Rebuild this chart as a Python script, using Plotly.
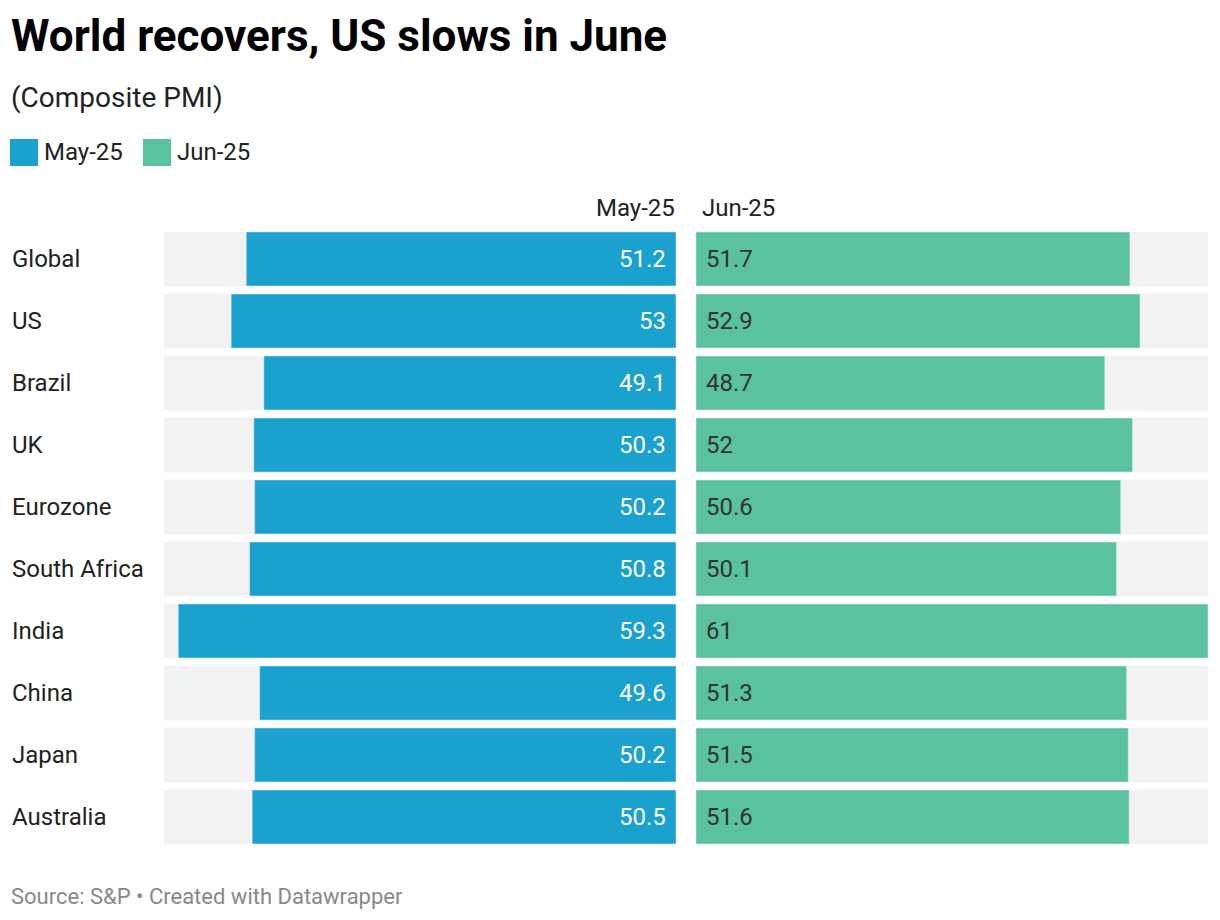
import plotly.graph_objects as go

countries = ["Global", "US", "Brazil", "UK", "Eurozone", "South Africa",
             "India", "China", "Japan", "Australia"]
may_values = [51.2, 53, 49.1, 50.3, 50.2, 50.8, 59.3, 49.6, 50.2, 50.5]
jun_values = [51.7, 52.9, 48.7, 52, 50.6, 50.1, 61, 51.3, 51.5, 51.6]
series_names = ["May-25", "Jun-25"]
scale_max = 61

W, H = 1220, 920
BLUE = "#1aa1cd"
GREEN = "#5ac29f"
GRAY = "#f2f2f2"
FONT = "Roboto"


def px_x(p):
    return p / W


def px_y(p):
    return 1 - p / H


fig = go.Figure()
bar_w = 54 / 62
bg = [scale_max] * len(countries)

fig.add_trace(go.Bar(y=countries, x=bg, orientation="h", marker_color=GRAY,
                     width=bar_w, xaxis="x", yaxis="y", hoverinfo="skip",
                     showlegend=False))
fig.add_trace(go.Bar(y=countries, x=may_values, orientation="h", marker_color=BLUE,
                     width=bar_w, xaxis="x", yaxis="y", name=series_names[0],
                     showlegend=False))
fig.add_trace(go.Bar(y=countries, x=bg, orientation="h", marker_color=GRAY,
                     width=bar_w, xaxis="x2", yaxis="y2", hoverinfo="skip",
                     showlegend=False))
fig.add_trace(go.Bar(y=countries, x=jun_values, orientation="h", marker_color=GREEN,
                     width=bar_w, xaxis="x2", yaxis="y2", name=series_names[1],
                     showlegend=False))

annotations = []
for c, mv, jv in zip(countries, may_values, jun_values):
    annotations.append(dict(x=0, y=c, xref="x", yref="y", text=f"{mv:g}",
                            xanchor="right", yanchor="middle", xshift=-8,
                            showarrow=False,
                            font=dict(family=FONT, size=24, color="#ffffff")))
    annotations.append(dict(x=0, y=c, xref="x2", yref="y2", text=f"{jv:g}",
                            xanchor="left", yanchor="middle", xshift=8,
                            showarrow=False,
                            font=dict(family=FONT, size=24, color="#333333")))
    annotations.append(dict(x=px_x(10), y=c, xref="paper", yref="y", text=c,
                            xanchor="left", yanchor="middle", showarrow=False,
                            font=dict(family=FONT, size=24, color="#222222")))

# column headers
annotations.append(dict(x=0, y=px_y(208), xref="x", yref="paper", text=series_names[0],
                        xanchor="right", yanchor="middle", xshift=1, showarrow=False,
                        font=dict(family=FONT, size=24, color="#222222")))
annotations.append(dict(x=0, y=px_y(208), xref="x2", yref="paper", text=series_names[1],
                        xanchor="left", yanchor="middle", xshift=4, showarrow=False,
                        font=dict(family=FONT, size=24, color="#222222")))

# title, subtitle, source
annotations.append(dict(x=px_x(9), y=px_y(36), xref="paper", yref="paper",
                        text="<b>World recovers, US slows in June</b>",
                        xanchor="left", yanchor="middle", showarrow=False,
                        font=dict(family=FONT, size=44, color="#000000")))
annotations.append(dict(x=px_x(9), y=px_y(97), xref="paper", yref="paper",
                        text="(Composite PMI)", xanchor="left", yanchor="middle",
                        showarrow=False,
                        font=dict(family=FONT, size=28, color="#222222")))
annotations.append(dict(x=px_x(9), y=px_y(896), xref="paper", yref="paper",
                        text="Source: S&P • Created with Datawrapper",
                        xanchor="left", yanchor="middle", showarrow=False,
                        font=dict(family=FONT, size=22, color="#888888")))

# legend
shapes = []
legend_items = [(series_names[0], BLUE, 10), (series_names[1], GREEN, 143)]
for name, col, x0 in legend_items:
    shapes.append(dict(type="rect", xref="paper", yref="paper",
                       x0=px_x(x0), x1=px_x(x0 + 28), y0=px_y(166), y1=px_y(139),
                       fillcolor=col, line=dict(width=0)))
    annotations.append(dict(x=px_x(x0 + 32), y=px_y(152), xref="paper", yref="paper",
                            text=name, xanchor="left", yanchor="middle",
                            showarrow=False,
                            font=dict(family=FONT, size=24, color="#222222")))

ydom = [px_y(848), px_y(228)]
common_y = dict(type="category", autorange=False, range=[len(countries) - 0.5, -0.5],
                showticklabels=False, showgrid=False, zeroline=False,
                domain=ydom, fixedrange=True)

fig.update_layout(
    width=W, height=H,
    margin=dict(l=0, r=0, t=0, b=0),
    paper_bgcolor="#ffffff", plot_bgcolor="rgba(0,0,0,0)",
    barmode="overlay", showlegend=False,
    font=dict(family=FONT),
    xaxis=dict(domain=[px_x(164), px_x(676)], range=[scale_max, 0],
               showticklabels=False, showgrid=False, zeroline=False, fixedrange=True),
    xaxis2=dict(domain=[px_x(696), px_x(1208)], range=[0, scale_max],
                showticklabels=False, showgrid=False, zeroline=False, fixedrange=True),
    yaxis=dict(**common_y, anchor="x"),
    yaxis2=dict(**common_y, anchor="x2"),
    annotations=annotations,
    shapes=shapes,
)

fig.write_html("out.html", config={"displayModeBar": False},
               post_script="document.body.style.margin='0';")
